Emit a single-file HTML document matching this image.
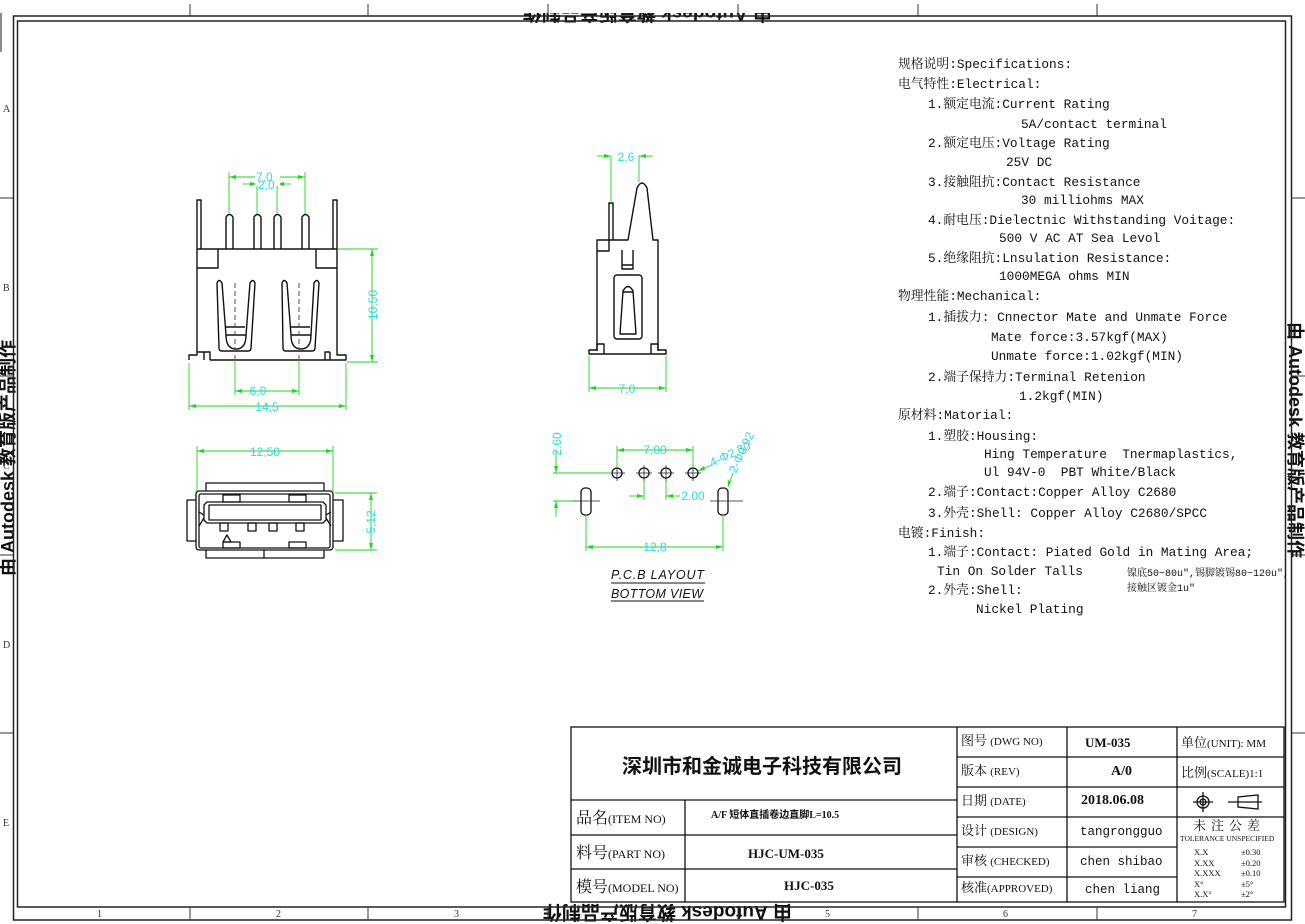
<!DOCTYPE html>
<html><head><meta charset="utf-8"><style>
html,body{margin:0;padding:0;background:#fff}
.w{position:relative;width:1305px;height:924px;overflow:hidden;background:#fff}
svg{position:absolute;left:0;top:0}
.t{position:absolute;white-space:pre;font-family:"Liberation Mono","Noto Serif CJK SC",monospace;font-size:12.8px;color:#111;line-height:14px}
</style></head><body><div class="w">
<svg width="1305" height="924" viewBox="0 0 1305 924" xmlns="http://www.w3.org/2000/svg">
<g fill="none" stroke="#666" stroke-width="1.5">
<path d="M1 52 V5 H52"/>
</g>
<!-- watermarks -->
<text transform="translate(14,576) rotate(-90)" font-family="Liberation Sans,Noto Sans CJK SC,sans-serif" font-weight="bold" font-size="18" fill="#111">由 Autodesk 教育版产品制作</text>
<text transform="translate(1289,322) rotate(90)" font-family="Liberation Sans,Noto Sans CJK SC,sans-serif" font-weight="bold" font-size="18" fill="#111">由 Autodesk 教育版产品制作</text>
<text transform="translate(792,906) rotate(180)" font-family="Liberation Sans,Noto Sans CJK SC,sans-serif" font-weight="bold" font-size="19" fill="#111">由 Autodesk 教育版产品制作</text>
<text transform="translate(772,7) rotate(180)" font-family="Liberation Sans,Noto Sans CJK SC,sans-serif" font-weight="bold" font-size="19" fill="#111">由 Autodesk 教育版产品制作</text>
<rect x="0" y="0" width="1305" height="13" fill="#fff"/>
<!-- frame -->
<rect x="13.5" y="16" width="1278" height="904" fill="none" stroke="#222" stroke-width="1.5"/>
<rect x="17.5" y="21" width="1268" height="886" fill="none" stroke="#222" stroke-width="1.5"/>
<g stroke="#333" stroke-width="1">
<line x1="190" y1="4" x2="190" y2="16"/><line x1="368" y1="4" x2="368" y2="16"/><line x1="548" y1="4" x2="548" y2="16"/><line x1="738" y1="4" x2="738" y2="16"/><line x1="918" y1="4" x2="918" y2="16"/><line x1="1097" y1="4" x2="1097" y2="16"/>
<line x1="190" y1="907" x2="190" y2="920"/><line x1="368" y1="907" x2="368" y2="920"/><line x1="548" y1="907" x2="548" y2="920"/><line x1="738" y1="907" x2="738" y2="920"/><line x1="918" y1="907" x2="918" y2="920"/><line x1="1097" y1="907" x2="1097" y2="920"/>
<line x1="0" y1="198" x2="13" y2="198"/><line x1="0" y1="376" x2="13" y2="376"/><line x1="0" y1="555" x2="13" y2="555"/><line x1="0" y1="733" x2="13" y2="733"/>
<line x1="1292" y1="198" x2="1305" y2="198"/><line x1="1292" y1="376" x2="1305" y2="376"/><line x1="1292" y1="555" x2="1305" y2="555"/><line x1="1292" y1="733" x2="1305" y2="733"/>
</g>
<g font-family="Liberation Serif,serif" font-size="10" fill="#333">
<text x="3" y="112">A</text><text x="3" y="291">B</text><text x="3" y="469">C</text><text x="3" y="648">D</text><text x="3" y="826">E</text>
<text x="97" y="917">1</text><text x="276" y="917">2</text><text x="454" y="917">3</text><text x="825" y="917">5</text><text x="1003" y="917">6</text><text x="1192" y="917">7</text>
</g>

<!-- FRONT VIEW -->
<g fill="none" stroke="#111" stroke-width="1.4" stroke-linejoin="round">
<path d="M197 352 V200 h4 V249"/>
<path d="M337 352 V200 h-4 V249"/>
<line x1="197" y1="249" x2="337" y2="249"/>
<path d="M226 249 V217 q3.5 -5 7 0 V249"/>
<path d="M254 249 V217 q3.5 -5 7 0 V249"/>
<path d="M274 249 V217 q3.5 -5 7 0 V249"/>
<path d="M302 249 V217 q3.5 -5 7 0 V249"/>
<path d="M197 268 H218 V249"/><path d="M337 268 H316 V249"/>
<path d="M189 360 V355 H197 V352 H204 V360 M204 352 H210 V360 M210 360 H325 M325 360 V352 H330 M337 352 V355 H346 V360 H325 M330 352 V360"/>
<path d="M217 283 q2 -5 5 0 L226 335 q0 14 10 14 q10 0 10 -14 L250 283 q3 -5 5 0 L251 348 q0 3 -3 3 H222 q-3 0 -3 -3 Z"/>
<path d="M226 327 H245 M226 335 H246"/>
<path d="M282 283 q2 -5 5 0 L291 335 q0 14 10 14 q10 0 10 -14 L314 283 q3 -5 5 0 L315 348 q0 3 -3 3 H286 q-3 0 -3 -3 Z"/>
<path d="M290 327 H310 M291 335 H311"/>
</g>
<g stroke="#555" stroke-width="1" stroke-dasharray="5 3"><line x1="235" y1="283" x2="235" y2="360"/><line x1="299" y1="283" x2="299" y2="360"/></g>
<!-- SIDE VIEW -->
<g fill="none" stroke="#111" stroke-width="1.4" stroke-linejoin="round">
<path d="M597 351 V240 H628 L637 188 q5 -10 10 0 L653 240 H658 V351"/>
<path d="M609 240 V203 h4 V240"/>
<path d="M597 251 H609 V240"/>
<path d="M622 250 V269 H633 V250 M622 265 H633"/>
<rect x="614" y="275" width="28" height="64" rx="3"/>
<path d="M620 334 L623 291 q5 -9 10 0 L636 334 Z M623 292 H633"/>
<path d="M589 354 V350 H597 V344 H604 V354 Z M604 354 H651 V344 H658 V350 H666 V354 H651"/>
</g>
<!-- FACE VIEW -->
<g fill="none" stroke="#111" stroke-width="1.3" stroke-linejoin="round">
<rect x="196" y="491" width="137" height="59" rx="3"/>
<rect x="199" y="494" width="131" height="54" rx="2"/>
<path d="M206 491 V483 H324 V491"/>
<path d="M206 550 V558 H324 V550 M264 550 V558"/>
<path d="M196 500 H187 V541 H196 M333 500 H343 V541 H333"/>
<path d="M207 502 H323 L326 505 V520 L323 523 H207 L204 520 V505 Z"/>
<path d="M209 505 H321 V520 H209 Z"/>
<path d="M204 515 L199 512 M326 515 L331 512 M204 518 L199 526 M326 518 L331 526"/>
<rect x="220" y="523" width="8" height="8"/><rect x="248" y="523" width="8" height="8"/><rect x="269" y="523" width="8" height="8"/><rect x="296" y="523" width="8" height="8"/>
<path d="M223 542 L227 535 L231 542 Z"/>
<rect x="223" y="542" width="17" height="6"/><rect x="289" y="542" width="17" height="6"/>
<rect x="223" y="495" width="17" height="7"/><rect x="289" y="495" width="17" height="7"/>
</g>
<!-- PCB -->
<g fill="none" stroke="#111" stroke-width="1.3">
<circle cx="617" cy="473" r="5"/><circle cx="644" cy="473" r="5"/><circle cx="666" cy="473" r="5"/><circle cx="693" cy="473" r="5"/>
<rect x="581" y="488" width="10" height="27" rx="4"/><rect x="718" y="488" width="10" height="27" rx="4"/>
</g>
<g stroke="#222" stroke-width="0.8">
<line x1="609" y1="473" x2="625" y2="473"/><line x1="617" y1="465" x2="617" y2="481"/>
<line x1="636" y1="473" x2="652" y2="473"/><line x1="644" y1="465" x2="644" y2="481"/>
<line x1="658" y1="473" x2="674" y2="473"/><line x1="666" y1="465" x2="666" y2="481"/>
<line x1="685" y1="473" x2="701" y2="473"/><line x1="693" y1="465" x2="693" y2="481"/>
<line x1="573" y1="501" x2="600" y2="501"/><line x1="710" y1="501" x2="743" y2="501"/>
</g>
<!-- dims -->
<g stroke="#1ed61e" stroke-width="0.9" fill="none">
<line x1="229" y1="172" x2="229" y2="214"/><line x1="305" y1="172" x2="305" y2="214"/><line x1="229" y1="177" x2="305" y2="177"/>
<line x1="257" y1="180" x2="257" y2="214"/><line x1="277" y1="180" x2="277" y2="214"/><line x1="243" y1="184" x2="257" y2="184"/><line x1="277" y1="184" x2="291" y2="184"/>
<line x1="338" y1="249" x2="378" y2="249"/><line x1="347" y1="362" x2="378" y2="362"/><line x1="372" y1="249" x2="372" y2="362"/>
<line x1="235" y1="360" x2="235" y2="395"/><line x1="299" y1="360" x2="299" y2="395"/><line x1="235" y1="391" x2="299" y2="391"/>
<line x1="189" y1="363" x2="189" y2="410"/><line x1="346" y1="363" x2="346" y2="410"/><line x1="189" y1="406" x2="346" y2="406"/>
<line x1="611" y1="156" x2="611" y2="203"/><line x1="639" y1="156" x2="639" y2="182"/><line x1="597" y1="156" x2="611" y2="156"/><line x1="639" y1="156" x2="653" y2="156"/>
<line x1="589" y1="356" x2="589" y2="392"/><line x1="666" y1="356" x2="666" y2="392"/><line x1="589" y1="388" x2="666" y2="388"/>
<line x1="197" y1="446" x2="197" y2="491"/><line x1="333" y1="446" x2="333" y2="491"/><line x1="197" y1="451" x2="333" y2="451"/>
<line x1="335" y1="493" x2="377" y2="493"/><line x1="335" y1="550" x2="377" y2="550"/><line x1="371" y1="493" x2="371" y2="550"/>
<line x1="617" y1="446" x2="617" y2="468"/><line x1="693" y1="446" x2="693" y2="468"/><line x1="617" y1="450" x2="693" y2="450"/>
<line x1="586" y1="515" x2="586" y2="551"/><line x1="723" y1="515" x2="723" y2="551"/><line x1="586" y1="547" x2="723" y2="547"/>
<line x1="644" y1="481" x2="644" y2="500"/><line x1="666" y1="481" x2="666" y2="500"/><line x1="629" y1="496" x2="644" y2="496"/><line x1="666" y1="496" x2="680" y2="496"/>
<line x1="553" y1="473" x2="612" y2="473"/><line x1="556" y1="450" x2="556" y2="473"/><line x1="553" y1="501" x2="573" y2="501"/><line x1="556" y1="501" x2="556" y2="517"/>
<line x1="698" y1="471" x2="712" y2="465"/><line x1="728" y1="487" x2="733" y2="473"/>
</g>
<g fill="#1ed61e">
<path d="M229 177 l7 -2 v4 Z M305 177 l-7 -2 v4 Z M257 184 l-7 -2 v4 Z M277 184 l7 -2 v4 Z M372 249 l-2 7 h4 Z M372 362 l-2 -7 h4 Z M235 391 l7 -2 v4 Z M299 391 l-7 -2 v4 Z M189 406 l7 -2 v4 Z M346 406 l-7 -2 v4 Z M611 156 l-7 -2 v4 Z M639 156 l7 -2 v4 Z M589 388 l7 -2 v4 Z M666 388 l-7 -2 v4 Z M197 451 l7 -2 v4 Z M333 451 l-7 -2 v4 Z M371 493 l-2 7 h4 Z M371 550 l-2 -7 h4 Z M617 450 l7 -2 v4 Z M693 450 l-7 -2 v4 Z M586 547 l7 -2 v4 Z M723 547 l-7 -2 v4 Z M644 496 l-7 -2 v4 Z M666 496 l7 -2 v4 Z M556 473 l-2 -7 h4 Z M556 501 l-2 7 h4 Z M698 471 l6 -5 l1 4 Z M728 487 l0 -7 l3 2 Z"/>
</g>
<g fill="#2fd8e8" font-family="Liberation Sans,sans-serif" font-size="12">
<rect x="255" y="170" width="25" height="16" fill="#fff"/>
<text x="256" y="181">7,0</text><text x="258" y="189">2,0</text>
<text transform="translate(377,305) rotate(-90)" text-anchor="middle">10,50</text>
<text x="258" y="395" text-anchor="middle">6,0</text>
<text x="267" y="411" text-anchor="middle">14,5</text>
<text x="626" y="161" text-anchor="middle">2,6</text>
<text x="627" y="393" text-anchor="middle">7,0</text>
<text x="265" y="456" text-anchor="middle">12,50</text>
<text transform="translate(375,522) rotate(-90)" text-anchor="middle">5,12</text>
<text x="655" y="454" text-anchor="middle">7.00</text>
<text x="655" y="551" text-anchor="middle">12,8</text>
<text x="693" y="500" text-anchor="middle">2.00</text>
<text transform="translate(561,444) rotate(-90)" text-anchor="middle">2.60</text>
<text transform="translate(712,467) rotate(-25)">4-Φ2.30</text>
<text transform="translate(736,474) rotate(-65)">2-Φ0.92</text>
</g>
<g font-family="Liberation Sans,sans-serif" font-style="italic" font-size="12.5" fill="#111">
<text x="611" y="579" textLength="93">P.C.B  LAYOUT</text>
<text x="611" y="598" textLength="92">BOTTOM  VIEW</text>
</g>
<line x1="611" y1="583" x2="705" y2="583" stroke="#111" stroke-width="1"/>
<line x1="611" y1="601" x2="704" y2="601" stroke="#111" stroke-width="1"/>

<!-- title block -->
<g stroke="#111" stroke-width="1.3" fill="none">
<rect x="571" y="727" width="713" height="175"/>
<line x1="957" y1="727" x2="957" y2="902"/><line x1="1067" y1="727" x2="1067" y2="902"/><line x1="1177" y1="727" x2="1177" y2="902"/>
<line x1="571" y1="800" x2="957" y2="800"/><line x1="571" y1="835" x2="957" y2="835"/><line x1="571" y1="869" x2="957" y2="869"/>
<line x1="685" y1="800" x2="685" y2="902"/>
<line x1="957" y1="757" x2="1284" y2="757"/><line x1="957" y1="787" x2="1284" y2="787"/><line x1="957" y1="817" x2="1284" y2="817"/>
<line x1="957" y1="847" x2="1177" y2="847"/><line x1="957" y1="877" x2="1177" y2="877"/>
<circle cx="1203" cy="802" r="6"/><circle cx="1203" cy="802" r="3"/>
<path d="M1193 802 H1213 M1203 792 V812"/>
<path d="M1228 802 H1262 M1238 797 V807 L1258 809 V795 Z"/>
</g>
</svg>
<div class="t" style="left:898px;top:58px">规格说明:Specifications:</div>
<div class="t" style="left:898px;top:78px">电气特性:Electrical:</div>
<div class="t" style="left:928px;top:98px">1.额定电流:Current Rating</div>
<div class="t" style="left:1021px;top:118px">5A/contact terminal</div>
<div class="t" style="left:928px;top:137px">2.额定电压:Voltage Rating</div>
<div class="t" style="left:1006px;top:156px">25V DC</div>
<div class="t" style="left:928px;top:176px">3.接触阻抗:Contact Resistance</div>
<div class="t" style="left:1021px;top:194px">30 milliohms MAX</div>
<div class="t" style="left:928px;top:214px">4.耐电压:Dielectnic Withstanding Voitage:</div>
<div class="t" style="left:999px;top:232px">500 V AC AT Sea Levol</div>
<div class="t" style="left:928px;top:252px">5.绝缘阻抗:Lnsulation Resistance:</div>
<div class="t" style="left:999px;top:270px">1000MEGA ohms MIN</div>
<div class="t" style="left:898px;top:290px">物理性能:Mechanical:</div>
<div class="t" style="left:928px;top:311px">1.插拔力: Cnnector Mate and Unmate Force</div>
<div class="t" style="left:991px;top:331px">Mate force:3.57kgf(MAX)</div>
<div class="t" style="left:991px;top:350px">Unmate force:1.02kgf(MIN)</div>
<div class="t" style="left:928px;top:371px">2.端子保持力:Terminal Retenion</div>
<div class="t" style="left:1019px;top:390px">1.2kgf(MIN)</div>
<div class="t" style="left:898px;top:409px">原材料:Matorial:</div>
<div class="t" style="left:928px;top:430px">1.塑胶:Housing:</div>
<div class="t" style="left:984px;top:448px">Hing Temperature  Tnermaplastics,</div>
<div class="t" style="left:984px;top:466px">Ul 94V-0  PBT White/Black</div>
<div class="t" style="left:928px;top:486px">2.端子:Contact:Copper Alloy C2680</div>
<div class="t" style="left:928px;top:507px">3.外壳:Shell: Copper Alloy C2680/SPCC</div>
<div class="t" style="left:898px;top:527px">电镀:Finish:</div>
<div class="t" style="left:928px;top:546px">1.端子:Contact: Piated Gold in Mating Area;</div>
<div class="t" style="left:937px;top:565px">Tin On Solder Talls</div>
<div class="t" style="left:1127px;top:568px;font-size:10px">镍底50~80u",锡脚镀锡80~120u",</div>
<div class="t" style="left:1127px;top:583px;font-size:10px">接触区镀金1u"</div>
<div class="t" style="left:928px;top:584px">2.外壳:Shell:</div>
<div class="t" style="left:976px;top:603px">Nickel Plating</div>

<div class="t" style="left:622px;top:753px;font-family:'Noto Sans CJK SC',sans-serif;font-weight:bold;font-size:20px;line-height:24px">深圳市和金诚电子科技有限公司</div>
<div class="t" style="left:576px;top:808px;font-size:16px;line-height:18px;font-family:'Noto Serif CJK SC',serif">品名<span style="font-family:'Liberation Serif';font-size:12px">(ITEM NO)</span></div>
<div class="t" style="left:576px;top:843px;font-size:16px;line-height:18px;font-family:'Noto Serif CJK SC',serif">料号<span style="font-family:'Liberation Serif';font-size:12px">(PART NO)</span></div>
<div class="t" style="left:576px;top:877px;font-size:16px;line-height:18px;font-family:'Noto Serif CJK SC',serif">模号<span style="font-family:'Liberation Serif';font-size:12px">(MODEL NO)</span></div>
<div class="t" style="left:711px;top:809px;font-size:10px;font-weight:bold;font-family:'Liberation Serif','Noto Sans CJK SC',serif">A/F 短体直插卷边直脚L=10.5</div>
<div class="t" style="left:748px;top:847px;font-size:13px;font-weight:bold;font-family:'Liberation Serif',serif">HJC-UM-035</div>
<div class="t" style="left:784px;top:879px;font-size:13px;font-weight:bold;font-family:'Liberation Serif',serif">HJC-035</div>

<div class="t" style="left:961px;top:734px;font-size:13px;font-family:'Liberation Serif','Noto Serif CJK SC',serif">图号 <span style="font-size:11px">(DWG NO)</span></div>
<div class="t" style="left:961px;top:764px;font-size:13px;font-family:'Liberation Serif','Noto Serif CJK SC',serif">版本 <span style="font-size:11px">(REV)</span></div>
<div class="t" style="left:961px;top:794px;font-size:13px;font-family:'Liberation Serif','Noto Serif CJK SC',serif">日期 <span style="font-size:11px">(DATE)</span></div>
<div class="t" style="left:961px;top:824px;font-size:13px;font-family:'Liberation Serif','Noto Serif CJK SC',serif">设计 <span style="font-size:11px">(DESIGN)</span></div>
<div class="t" style="left:961px;top:854px;font-size:13px;font-family:'Liberation Serif','Noto Serif CJK SC',serif">审核 <span style="font-size:11px">(CHECKED)</span></div>
<div class="t" style="left:961px;top:881px;font-size:13px;font-family:'Liberation Serif','Noto Serif CJK SC',serif">核准<span style="font-size:11px">(APPROVED)</span></div>
<div class="t" style="left:1085px;top:736px;font-size:13px;font-weight:bold;font-family:'Liberation Serif',serif">UM-035</div>
<div class="t" style="left:1111px;top:765px;font-size:14px;font-weight:bold;font-family:'Liberation Serif',serif">A/0</div>
<div class="t" style="left:1081px;top:794px;font-size:14px;font-weight:bold;font-family:'Liberation Serif',serif">2018.06.08</div>
<div class="t" style="left:1080px;top:825px;font-size:12.5px">tangrongguo</div>
<div class="t" style="left:1080px;top:855px;font-size:12.5px">chen shibao</div>
<div class="t" style="left:1085px;top:883px;font-size:12.5px">chen liang</div>
<div class="t" style="left:1181px;top:736px;font-size:13px;font-family:'Liberation Serif','Noto Serif CJK SC',serif">单位<span style="font-size:11px">(UNIT): MM</span></div>
<div class="t" style="left:1181px;top:766px;font-size:13px;font-family:'Liberation Serif','Noto Serif CJK SC',serif">比例<span style="font-size:11px">(SCALE)1:1</span></div>
<div class="t" style="left:1193px;top:818px;font-size:13px;font-family:'Noto Serif CJK SC',serif;letter-spacing:5px">未注公差</div>
<div class="t" style="left:1180px;top:834px;font-size:7.5px;line-height:9px;font-family:'Liberation Serif',serif">TOLERANCE UNSPECIFIED</div>
<div class="t" style="left:1194px;top:847px;font-size:8.5px;line-height:10.5px;font-family:'Liberation Serif',serif">X.X
X.XX
X.XXX
X°
X.X°</div>
<div class="t" style="left:1241px;top:847px;font-size:8.5px;line-height:10.5px;font-family:'Liberation Serif',serif">±0.30
±0.20
±0.10
±5°
±2°</div>
</div></body></html>
